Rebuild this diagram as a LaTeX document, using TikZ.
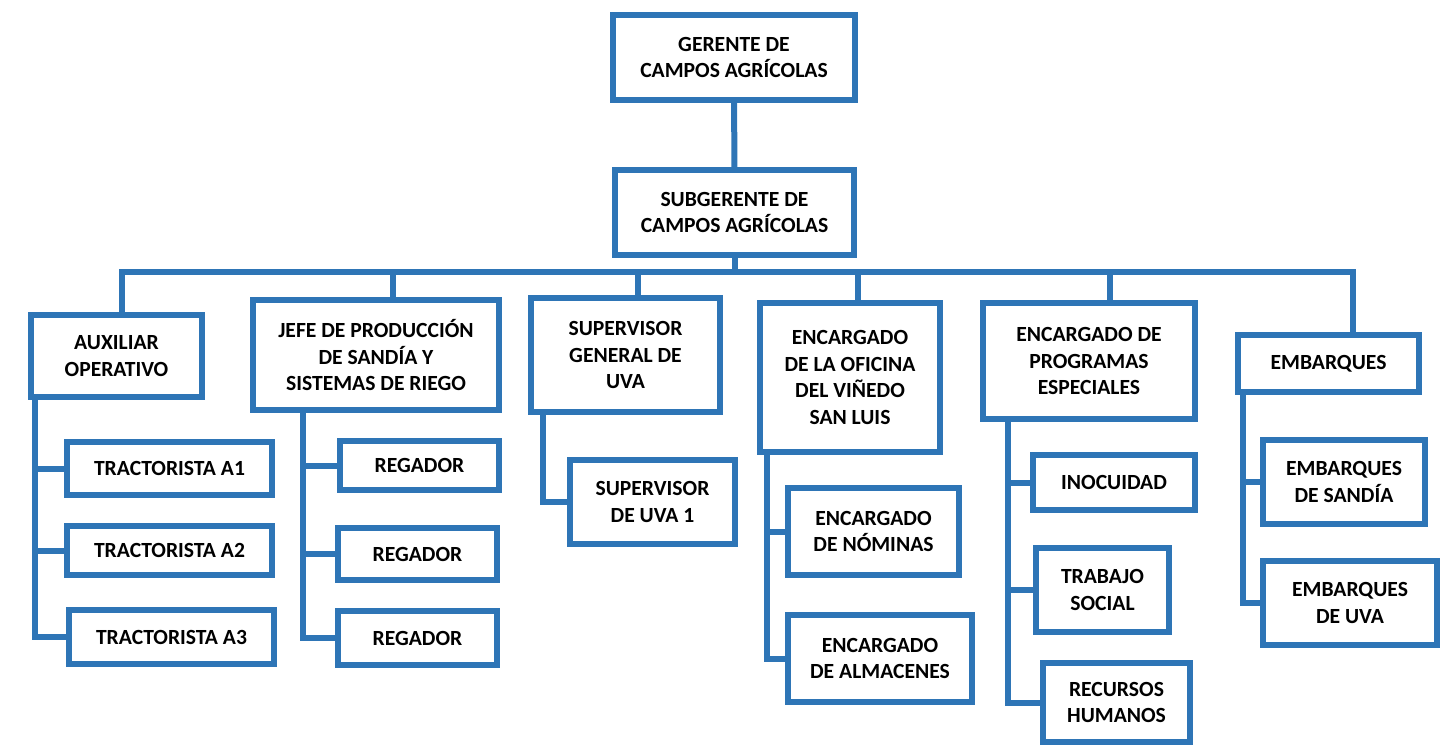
\documentclass[tikz,border=0pt]{standalone}
\usepackage{fontspec}
\setmainfont{Carlito}
\usepackage{tikz}
\usetikzlibrary{positioning}
\usetikzlibrary{calc}
\definecolor{orgblue}{RGB}{46,117,182}

\begin{document}
\begin{tikzpicture}[
            x = 0.02cm, y = -0.02cm, % one unit per pixel
            line width = 0.12cm, % thick blue lines
            line cap = rect,
            orgblue
        ]

        \tikzstyle{box}=[
            draw = orgblue,
            fill = white,
            text = black,
            inner sep = 0pt,
            align = center,
            font = \fontsize{12.3}{15.3}\selectfont\bfseries
        ]

        \useasboundingbox (0,0) rectangle (1450,748);

	% top level
        \node[box, minimum width=4.84cm, minimum height=1.70cm] (G) at (734,57.5) {GERENTE DE\\CAMPOS AGRÍCOLAS};
        \node[box, minimum width=4.78cm, minimum height=1.70cm] (SG) at (734.5,212.5) {SUBGERENTE DE\\CAMPOS AGRÍCOLAS};

        \draw (G) -- (SG);

        % second level
        \node[box, minimum width=3.42cm, minimum height=1.64cm] (AUX) at (116.5,356) {AUXILIAR\\OPERATIVO};
        \node[box, minimum width=4.92cm, minimum height=2.20cm] (JP) at (376,355) {JEFE DE PRODUCCIÓN\\DE SANDÍA Y\\SISTEMAS DE RIEGO};
        \node[box, minimum width=3.78cm, minimum height=2.28cm] (SV) at (625.5,355) {SUPERVISOR\\GENERAL DE\\UVA};
        \node[box, minimum width=3.60cm, minimum height=2.98cm] (EO) at (850,377.5) {ENCARGADO\\DE LA OFICINA\\DEL VIÑEDO\\SAN LUIS};
        \node[box, minimum width=4.24cm, minimum height=2.32cm] (EP) at (1089,361) {ENCARGADO DE\\PROGRAMAS\\ESPECIALES};
        \node[box, minimum width=3.62cm, minimum height=1.14cm] (EM) at (1328.5,363.5) {EMBARQUES};

        % bus under the subgerente
        \coordinate (bSG) at (734.5,272);
        \coordinate (bAUX) at (122,272);
        \coordinate (bJP) at (393,272);
        \coordinate (bSV) at (638,272);
        \coordinate (bEO) at (858,272);
        \coordinate (bEP) at (1110,272);
        \coordinate (bEM) at (1353,272);

        \draw (SG) -- (bSG);
        \draw (bAUX) -- (bEM);
        \foreach \n in {AUX, JP, SV, EO, EP, EM}
            \draw (b\n) -- (\n.north -| b\n);

        % third level
        \node[box, minimum width=4.10cm, minimum height=1.06cm] (T1) at (169.5,468.5) {TRACTORISTA A1};
        \node[box, minimum width=4.10cm, minimum height=0.98cm] (T2) at (169.5,550.5) {TRACTORISTA A2};
        \node[box, minimum width=4.10cm, minimum height=1.08cm] (T3) at (171.5,637) {TRACTORISTA A3};

        \node[box, minimum width=3.18cm, minimum height=0.98cm] (R1) at (419.5,465.5) {REGADOR};
        \node[box, minimum width=3.18cm, minimum height=1.04cm] (R2) at (417.5,554) {REGADOR};
        \node[box, minimum width=3.18cm, minimum height=1.08cm] (R3) at (417.5,638) {REGADOR};

        \node[box, minimum width=3.30cm, minimum height=1.68cm] (SU) at (652.5,502) {SUPERVISOR\\DE UVA 1};

        \node[box, minimum width=3.42cm, minimum height=1.74cm] (NO) at (873.5,531.5) {ENCARGADO\\DE NÓMINAS};
        \node[box, minimum width=3.68cm, minimum height=1.74cm] (AL) at (880,658.5) {ENCARGADO\\DE ALMACENES};

        \node[box, minimum width=3.24cm, minimum height=1.10cm] (IN) at (1114,482.5) {INOCUIDAD};
        \node[box, minimum width=2.66cm, minimum height=1.68cm] (TS) at (1102.5,590) {TRABAJO\\SOCIAL};
        \node[box, minimum width=2.94cm, minimum height=1.58cm] (RH) at (1116.5,702.5) {RECURSOS\\HUMANOS};

        \node[box, minimum width=3.24cm, minimum height=1.68cm] (ES) at (1344,482) {EMBARQUES\\DE SANDÍA};
        \node[box, minimum width=3.48cm, minimum height=1.68cm] (EU) at (1350,603) {EMBARQUES\\DE UVA};

        % branch lines
        \coordinate (vAUX) at (35,400);
        \coordinate (vJP) at (303,413);
        \coordinate (vSV) at (543,415);
        \coordinate (vEO) at (767,455);
        \coordinate (vEP) at (1008,422);
        \coordinate (vEM) at (1243,395);

        \foreach \c in {T1, T2, T3}
            \draw (vAUX) |- (\c.west);
        \foreach \c in {R1, R2, R3}
            \draw (vJP) |- (\c.west);
        \draw (vSV) |- (SU.west);
        \foreach \c in {NO, AL}
            \draw (vEO) |- (\c.west);
        \foreach \c in {IN, TS, RH}
            \draw (vEP) |- (\c.west);
        \foreach \c in {ES, EU}
            \draw (vEM) |- (\c.west);

\end{tikzpicture}
\end{document}
